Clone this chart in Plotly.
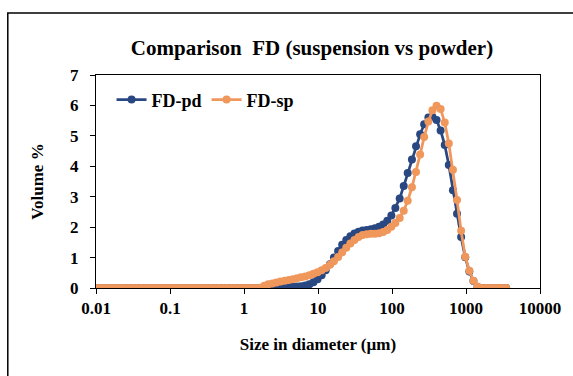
import plotly.graph_objects as go

sizes_um = [
    0.0100, 0.0114, 0.0129, 0.0147, 0.0167, 0.0189, 0.0215, 0.0244, 0.0278, 0.0315,
    0.0358, 0.0407, 0.0463, 0.0526, 0.0597, 0.0679, 0.0771, 0.0876, 0.0995,
    0.113, 0.128, 0.146, 0.166, 0.188, 0.214, 0.243, 0.276, 0.314, 0.357,
    0.405, 0.460, 0.523, 0.594, 0.675, 0.767, 0.872, 0.991,
    1.13, 1.28, 1.45, 1.65, 1.88, 2.13, 2.42, 2.75, 3.12, 3.55,
    4.03, 4.58, 5.21, 5.92, 6.72, 7.64, 8.68, 9.86,
    11.2, 12.7, 14.5, 16.4, 18.7, 21.2, 24.1, 27.4, 31.1, 35.3,
    40.1, 45.6, 51.8, 58.9, 66.9, 76.0, 86.4, 98.1,
    111, 127, 144, 163, 186, 211, 240, 272, 310, 352,
    400, 454, 516, 586, 666, 756, 859, 976,
    1110, 1260, 1430, 1630, 1850, 2100, 2390, 2710, 3080, 3500,
]

fd_pd = [0.0] * 40 + [
    0.00, 0.01, 0.02, 0.03, 0.04, 0.05, 0.05, 0.05, 0.05, 0.05,
    0.06, 0.08, 0.12, 0.19, 0.29,
    0.42, 0.58, 0.78, 1.00, 1.22, 1.42, 1.58, 1.70, 1.79,
    1.85, 1.89, 1.91, 1.93, 1.96, 2.01, 2.09, 2.21, 2.38,
    2.63, 2.94, 3.35, 3.78, 4.22, 4.66, 5.05, 5.38, 5.60,
    5.63, 5.52, 5.18, 4.70, 4.04, 3.21, 2.44, 1.68, 1.01,
    0.54, 0.23, 0.03, 0.0, 0.0, 0.0, 0.0, 0.0, 0.0, 0.0,
]

fd_sp = [0.0] * 40 + [
    0.01, 0.07, 0.12, 0.15, 0.18, 0.21, 0.24, 0.26, 0.29, 0.32,
    0.35, 0.38, 0.42, 0.47, 0.52,
    0.58, 0.66, 0.76, 0.88, 1.02, 1.17, 1.32, 1.46, 1.58,
    1.68, 1.74, 1.77, 1.78, 1.78, 1.80, 1.84, 1.91, 2.01,
    2.14, 2.30, 2.54, 2.87, 3.31, 3.81, 4.39, 4.96, 5.47,
    5.84, 5.99, 5.88, 5.44, 4.75, 3.89, 2.89, 1.88, 1.03,
    0.57, 0.24, 0.05, 0.0, 0.0, 0.0, 0.0, 0.0, 0.0, 0.0,
]

x_tickvals = [0.01, 0.1, 1, 10, 100, 1000, 10000]
x_ticktext = ["0.01", "0.1", "1", "10", "100", "1000", "10000"]

BLUE = "#294882"
ORANGE = "#F0975C"
FONT = "Liberation Serif"

fig = go.Figure()
fig.add_trace(go.Scatter(
    x=sizes_um, y=fd_pd, name="FD-pd", mode="lines+markers",
    line=dict(color=BLUE, width=2.75),
    marker=dict(color=BLUE, size=8, symbol="circle"),
))
fig.add_trace(go.Scatter(
    x=sizes_um, y=fd_sp, name="FD-sp", mode="lines+markers",
    line=dict(color=ORANGE, width=2.75),
    marker=dict(color=ORANGE, size=8, symbol="circle"),
))

L, R, T, B = 96, 29, 75, 88
W, H = 573, 376
pw, ph = W - L - R, H - T - B

fig.update_layout(
    width=W, height=H,
    margin=dict(l=L, r=R, t=T, b=B, pad=0),
    paper_bgcolor="white", plot_bgcolor="white",
    font=dict(family=FONT, size=17, color="black"),
    title=dict(
        text="Comparison  FD (suspension vs powder)",
        font=dict(family=FONT, size=21, color="black", weight="bold"),
        x=(312) / W, xanchor="center", y=1 - 48 / H, yanchor="middle",
    ),
    showlegend=True,
    legend=dict(
        orientation="h", x=0.035, y=0.97, xanchor="left", yanchor="top",
        font=dict(family=FONT, size=18, color="black", weight="bold"),
        bgcolor="rgba(0,0,0,0)", itemwidth=30, tracegroupgap=0,
    ),
    xaxis=dict(
        type="log", range=[-2, 4],
        tickvals=x_tickvals, ticktext=x_ticktext,
        showgrid=False, zeroline=False,
        showline=True, linecolor="black", linewidth=1, mirror=True,
        ticks="outside", ticklen=5, tickcolor="black",
        tickfont=dict(family=FONT, size=17, color="black", weight="bold"),
        title=dict(text="Size in diameter (µm)", standoff=20,
                   font=dict(family=FONT, size=17, color="black", weight="bold")),
    ),
    yaxis=dict(
        range=[0, 7], dtick=1,
        showgrid=False, zeroline=False,
        showline=True, linecolor="black", linewidth=1, mirror=True,
        ticks="outside", ticklen=5, tickcolor="black", ticklabelstandoff=8,
        tickfont=dict(family=FONT, size=17, color="black", weight="bold"),
        title=dict(text="Volume %", standoff=22,
                   font=dict(family=FONT, size=17, color="black", weight="bold")),
    ),
)

# outer chart-area frame
fig.add_shape(
    type="rect", xref="paper", yref="paper",
    x0=(7 - L) / pw, x1=(W + 20 - L) / pw,
    y0=-(H + 20 - (H - B)) / ph, y1=((H - B) - 13) / ph,
    line=dict(color="black", width=1.5), fillcolor="rgba(0,0,0,0)", layer="below",
)

fig.write_html(
    "out.html",
    config={"displayModeBar": False},
    post_script="document.body.style.margin='0';document.body.style.overflow='hidden';",
)
